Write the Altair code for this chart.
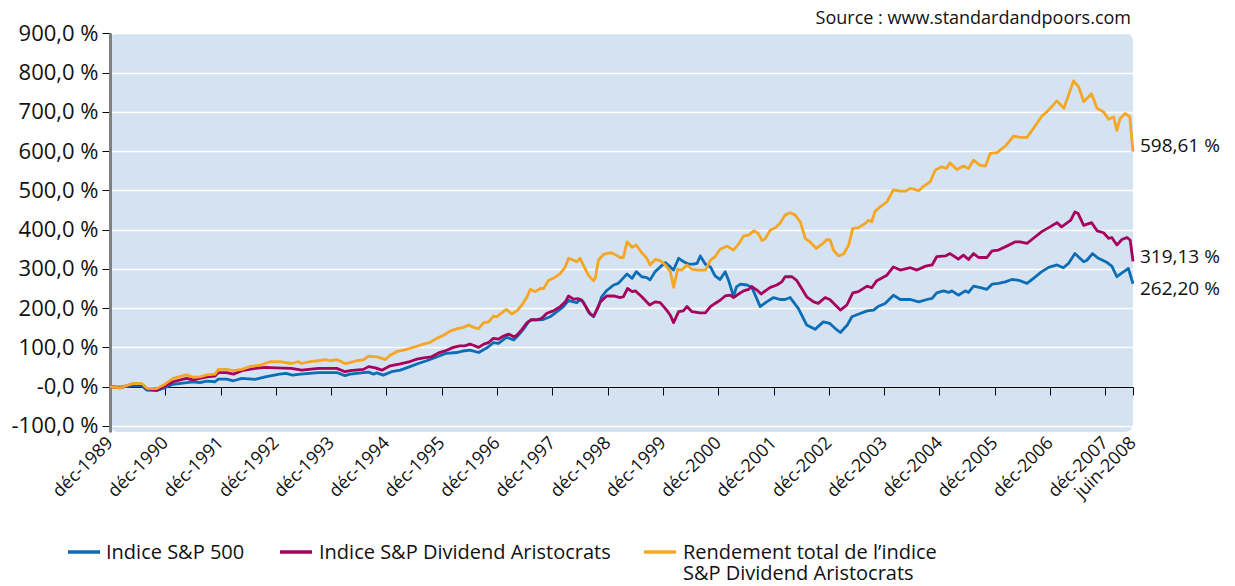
import altair as alt
import pandas as pd

FONT = "Open Sans"

# ---------------- data ----------------
series = [
    "Indice S&P 500",
    "Indice S&P Dividend Aristocrats",
    "Rendement total de l’indice S&P Dividend Aristocrats",
]
colors = ["#0a6db5", "#a6005c", "#f5a623"]

# month index: 0 = déc-1989 ... 222 = juin-2008
tick_months = [0, 12, 24, 36, 48, 60, 72, 84, 96, 108, 120, 132, 144, 156, 168, 180, 192, 204, 216, 222]
tick_labels = ["déc-1989", "déc-1990", "déc-1991", "déc-1992", "déc-1993", "déc-1994", "déc-1995",
               "déc-1996", "déc-1997", "déc-1998", "déc-1999", "déc-2000", "déc-2001", "déc-2002",
               "déc-2003", "déc-2004", "déc-2005", "déc-2006", "déc-2007", "juin-2008"]
y_ticks = [-100, 0, 100, 200, 300, 400, 500, 600, 700, 800, 900]
y_labels = ["-100,0 %", "-0,0 %", "100,0 %", "200,0 %", "300,0 %", "400,0 %", "500,0 %",
            "600,0 %", "700,0 %", "800,0 %", "900,0 %"]

blue_m = [0, 2.2, 5, 6.9, 8, 10.1, 11.6, 13.7, 16.6, 18.1, 19.5, 21, 22.8, 23.5, 25.3, 26.8, 28.6, 31.5,
          33.7, 36.8, 38.2, 39.6, 41.4, 45.2, 49.2, 51, 52.1, 55, 56.1, 57.2, 57.9, 59.3, 61.1, 63, 65.1,
          66.9, 68.7, 70.9, 73, 75.2, 77, 78.1, 80, 81.8, 83.2, 84.3, 86.1, 87.6, 88.3, 89.7, 90.8, 91.5,
          92.6, 94, 95.5, 97, 98.4, 99.5, 100.6, 101.3, 102, 102.7, 103.8, 104.9, 106, 106.7, 107.8,
          109.3, 110.3, 112.2, 113.3, 114.2, 115.4, 116.5, 117.2, 118.3, 119.4, 120.5, 121.6, 122.3,
          123.4, 124.5, 125.6, 126.6, 127.4, 128.1, 129.2, 130.3, 131.3, 132.4, 133.5, 134.2, 135.3,
          136.0, 136.8, 138.2, 139.3, 141.1, 142.5, 144, 145.4, 146.5, 147.6, 149.4, 151.2, 153, 154.8,
          156.2, 157.4, 158.5, 160, 161, 162.5, 164.3, 165.7, 166.8, 168.2, 170, 171.5, 173.7, 175.5,
          177.3, 178.4, 179.4, 180.9, 182, 182.7, 184.1, 185.6, 186.3, 187.4, 188.9, 190.3, 191.4,
          192.8, 194.3, 195.7, 197.2, 199, 200.4, 202.2, 203.7, 205.5, 206.9, 208, 209.4, 211.3, 212,
          213.2, 214.5, 216.4, 217.4, 218.5, 219.6, 221, 222]
blue_v = [0, -1, 2.3, 2.3, -9, -10, -4, 6, 10, 12.5, 10, 14, 12.5, 19, 19, 15, 21, 18.5,
          25, 32, 34, 29.5, 32, 35.5, 36, 28, 32, 35.5, 37, 32, 35, 29.5, 38, 42, 51,
          59, 66, 76, 85, 87, 91.5, 93, 87, 99, 112, 110, 126, 119, 127, 146, 165, 171,
          170, 171, 178, 191, 204, 220, 216, 214, 222, 216, 191, 178, 204, 229, 245,
          259, 263, 287, 276, 293, 280, 278, 272, 293, 305, 316, 305, 297,
          327, 318, 312, 312, 314, 333, 312, 305, 282, 273, 293, 272, 231,
          255, 261, 259, 253, 204, 216, 227, 222, 222, 227, 199, 157, 146, 165,
          161, 148, 138, 157, 178, 185, 193, 195, 205, 212, 233, 222, 222, 216,
          222, 225, 239, 244, 240, 244, 233, 244, 240, 256, 252, 248, 261,
          263, 267, 273, 271, 263, 276, 293, 304, 310, 303, 314, 339, 318, 322,
          339, 327, 316, 307, 280, 290, 301, 262.2]

mag_m = [0, 2.2, 5, 6.9, 8, 10.1, 11.6, 13.7, 16.6, 18.1, 21, 22.8, 23.5, 25.3, 26.8, 28.6, 31.5, 33.7,
         36, 39.4, 41.6, 45.2, 49.2, 51, 52.1, 55, 56.1, 57.6, 59, 60.8, 63, 65.1, 66.6, 68.4, 69.8,
         71.3, 72.7, 74.5, 75.9, 77, 78.1, 80, 81.1, 82.1, 83.2, 84.3, 85.4, 86.5, 87.6, 88.3, 89.4,
         90.5, 91.5, 92.6, 93.7, 94.8, 96.2, 97.7, 98.8, 99.5, 100.6, 101.7, 102.4, 103.5, 104.2, 105,
         105.6, 106.4, 107.8, 109.3, 110.7, 111.4, 112.3, 113.3, 114, 115.4, 117.1, 118.3, 119.4, 120.8,
         121.6, 122.3, 123.4, 124.4, 125.2, 126.3, 128, 129.2, 130.3, 131.3, 132.4, 133.5, 134.6, 135.3,
         136.4, 137.5, 138.6, 139.3, 140.4, 141.3, 142.2, 143.3, 144.7, 145.8, 146.5, 148, 149, 150.1,
         151.2, 152.7, 153.7, 155.2, 156.2, 157.4, 158.5, 159.9, 161.2, 162.4, 164.3, 165.3, 166.4,
         168.6, 170, 171.5, 173.7, 175.1, 177, 178.4, 179.4, 181.3, 182.3, 184.1, 185.2, 186.3, 187.4,
         188.5, 190.3, 191.4, 192.8, 194.6, 196.5, 197.5, 199, 200.4, 202.2, 204, 205.5, 206.5, 208.5,
         209.4, 210.1, 211.3, 213, 214.2, 215.6, 216.7, 217.4, 218.5, 219.6, 220.7, 221.4, 222]
mag_v = [0, -3, 7, 6, -5, -9, 0, 12.5, 21, 17, 25, 27, 36, 36, 32, 40.6, 46.5, 49,
         48, 46.5, 42, 46.5, 46.5, 38, 40.6, 44, 51, 48, 42, 53, 58, 64, 70, 74, 76,
         86, 91, 100, 104, 104, 108.5, 100, 108.5, 112, 123, 121, 129, 134, 127, 131, 146,
         163, 171, 170, 174, 187, 193, 204, 216, 231, 223, 224, 220, 199, 185, 180,
         195, 216, 231, 231, 227, 229, 250, 242, 244, 229, 208, 216, 214, 195,
         182, 163, 191, 193, 204, 191, 188, 188, 204, 212, 220, 231, 233, 227,
         236, 244, 248, 255, 246, 236, 244, 253, 259, 267, 280, 280, 271, 250,
         229, 216, 212, 227, 222, 208, 195, 208, 239, 242, 256, 252, 270,
         284, 305, 297, 303, 297, 307, 310, 331, 333, 339, 325, 335, 324, 339,
         329, 329, 346, 348, 358, 369, 369, 365, 378, 395, 407, 418, 407, 424,
         445, 441, 411, 418, 397, 392, 378, 380, 361, 375, 380, 373, 319.13]

ora_m = [0, 2.2, 5, 6.9, 8, 10.1, 11.6, 13.7, 16.6, 18.1, 19.5, 21, 22.8, 23.5, 25.3, 26.8, 28.6, 30.4,
         32.6, 34.7, 36.9, 39.4, 40.9, 41.6, 43.4, 45.2, 46.7, 47.8, 49.2, 51, 52.1, 53.5, 55, 56.1,
         57.9, 59, 59.7, 60.8, 62.2, 63.7, 65.1, 66.6, 68, 69.5, 70.9, 72.4, 73.8, 75.2, 76.7, 77.8,
         78.9, 80, 81.1, 82.2, 83.2, 83.9, 85, 86, 87.2, 88.3, 89.4, 90.5, 91.2, 92.3, 93.4, 94.1, 95.2,
         96.2, 97.7, 98.8, 99.5, 100.6, 101.3, 102, 102.7, 103.8, 104.9, 105.3, 106, 107.1, 108.2,
         108.9, 109.8, 110.7, 111.4, 112.2, 113.3, 114.2, 115.4, 116.5, 117.2, 118.3, 119.4, 120.5,
         121.6, 122.3, 123.2, 124.1, 125.2, 126.3, 127.7, 129.2, 130.3, 131.3, 132.4, 133.9, 135.3,
         136.4, 137.5, 138.6, 139.7, 140.7, 141.5, 142.2, 143.3, 144.4, 145.4, 146.5, 147.6, 148.7,
         149.8, 150.9, 151.9, 153.3, 154.5, 155.6, 156.3, 157, 158.1, 159.2, 160.3, 161.2, 162.4,
         163.9, 164.6, 165.3, 166, 167.1, 168.6, 170, 171.5, 172.6, 173.7, 174.8, 175.5, 176.6, 178,
         179.1, 180.5, 181.5, 182.3, 183.8, 185.2, 186.3, 187.4, 188.8, 190, 191, 192.5, 194.3, 196.1,
         197.5, 199, 200.4, 202.2, 203.3, 205.5, 207, 209.1, 210.2, 211.3, 213, 214.2, 215.6, 216.7,
         217.8, 218.5, 219.2, 220.3, 221.3, 222]
ora_v = [0, -3, 8, 8, -4, -5, 4, 21, 30, 24, 25, 30, 32, 44, 44, 41, 44, 51,
         55, 63.5, 63.5, 59, 63.5, 59, 63.5, 66, 69, 66, 69, 59, 61, 66, 68, 78,
         76, 72, 69, 80, 89, 93, 97.5, 103, 108.5, 113, 123, 131, 141.5, 147, 151, 157,
         151, 148, 163, 165, 180, 178, 188, 197, 185, 193, 208, 229, 248, 242, 250, 250, 271,
         276, 288, 305, 327, 322, 318, 327, 310, 284, 270, 276, 322, 337, 340,
         341, 335, 329, 329, 369, 355, 361, 341, 327, 310, 324, 321, 310,
         293, 253, 299, 297, 310, 299, 297, 297, 322, 331, 350, 358, 348,
         363, 384, 386, 397, 390, 372, 377, 399, 405, 416, 437, 443, 437,
         420, 377, 369, 352, 363, 375, 373, 348, 333, 338, 361, 403, 405,
         416, 424, 420, 446, 458, 471, 501, 498, 498, 505, 502, 499, 511, 522,
         552, 560, 556, 570, 553, 562, 556, 577, 564, 562, 594, 596, 613, 638,
         635, 635, 658, 689, 700, 728, 709, 779, 764, 726, 746, 709, 700, 681,
         687, 653, 683, 696, 687, 598.61]

end_values = [262.20, 319.13, 598.61]
end_labels = ["262,20 %", "319,13 %", "598,61 %"]

source_text = "Source : www.standardandpoors.com"
legend_lines = ["Indice S&P 500", "Indice S&P Dividend Aristocrats",
                "Rendement total de l’indice\nS&P Dividend Aristocrats"]

# ---------------- tables ----------------
rows = []
for k, (name, ms, vs) in enumerate(zip(series, [blue_m, mag_m, ora_m], [blue_v, mag_v, ora_v])):
    for m, v in zip(ms, vs):
        rows.append({"serie": name, "m": m, "v": v, "k": k})
df = pd.DataFrame(rows)

df_end = pd.DataFrame({"serie": series, "m": [222] * 3, "v": end_values, "label": end_labels})

W, H = 1023, 399
YDOM = [-115.5, 900.9]

x_label_expr = "[" + ",".join("'%s'" % t for t in tick_labels) + "][indexof([" + \
    ",".join(str(t) for t in tick_months) + "], datum.value)]"
y_label_expr = "[" + ",".join("'%s'" % t for t in y_labels) + "][indexof([" + \
    ",".join(str(t) for t in y_ticks) + "], datum.value)]"

xscale = alt.Scale(domain=[0, 222], nice=False, zero=False)
yscale = alt.Scale(domain=YDOM, nice=False, zero=False)


def x_axis():
    return alt.Axis(
        values=tick_months, labelExpr=x_label_expr, title=None, grid=False, orient="bottom",
        offset=-45, domainColor="black", domainWidth=1, tickColor="black", tickSize=8,
        tickWidth=1, labelAngle=315, labelAlign="right", labelBaseline="middle",
        labelPadding=45, labelFontSize=18, labelFont=FONT, labelColor="#111111",
        labelOverlap=False, labelFlush=False, labelBound=False)


def y_axis():
    return alt.Axis(
        values=y_ticks, labelExpr=y_label_expr, title=None, grid=True, gridColor="white",
        gridWidth=1.6, domainColor="#808080", domainWidth=3, tickColor="black", tickSize=8,
        tickWidth=1, labelFontSize=22, labelFont=FONT, labelColor="#111111", labelPadding=4,
        labelOverlap=False, labelFlush=False, labelSeparation=0, labelBound=False)


lines = alt.Chart(df).mark_line(strokeWidth=2.8, strokeJoin="round").encode(
    x=alt.X("m:Q", scale=xscale, axis=x_axis()),
    y=alt.Y("v:Q", scale=yscale, axis=y_axis()),
    color=alt.Color("serie:N", scale=alt.Scale(domain=series, range=colors), legend=None),
    detail="k:N",
)

end_dys = [5, -4, -6]
end_layers = []
for name, dy in zip(series, end_dys):
    end_layers.append(
        alt.Chart(df_end).transform_filter(alt.datum.serie == name).mark_text(
            align="left", baseline="middle", dx=7, dy=dy, fontSize=19, font=FONT, color="#111111"
        ).encode(x=alt.X("m:Q", scale=xscale, axis=x_axis()),
                 y=alt.Y("v:Q", scale=yscale, axis=y_axis()), text="label:N")
    )

one = pd.DataFrame({"a": [0]})
source_layer = alt.Chart(one).mark_text(
    align="right", baseline="middle", fontSize=18, font=FONT, color="#111111").encode(
    x=alt.value(W - 2), y=alt.value(-14), text=alt.value(source_text))

leg_x = [(-42, -10, -4), (170, 202, 209), (534, 566, 573)]
leg_layers = []
for (x1, x2, xt), col, txt in zip(leg_x, colors, legend_lines):
    leg_layers.append(alt.Chart(one).mark_rule(strokeWidth=3.5, color=col).encode(
        x=alt.value(x1), x2=alt.value(x2), y=alt.value(519)))
    leg_layers.append(alt.Chart(one).mark_text(
        align="left", baseline="top", fontSize=20, font=FONT, color="#111111",
        lineBreak="\n", lineHeight=21).encode(
        x=alt.value(xt), y=alt.value(510), text=alt.value(txt)))

chart = alt.layer(lines, *end_layers, source_layer, *leg_layers).properties(
    width=W, height=H,
    autosize=alt.AutoSizeParams(type="none"),
    padding={"left": 102, "top": 25, "right": 92, "bottom": 153},
    background="white",
).configure_view(fill="#d5e2f2", stroke=None, cornerRadius=8).configure_axis(labelOverlap=False)

chart.save("out.html", embed_options={"renderer": "svg", "actions": False})
